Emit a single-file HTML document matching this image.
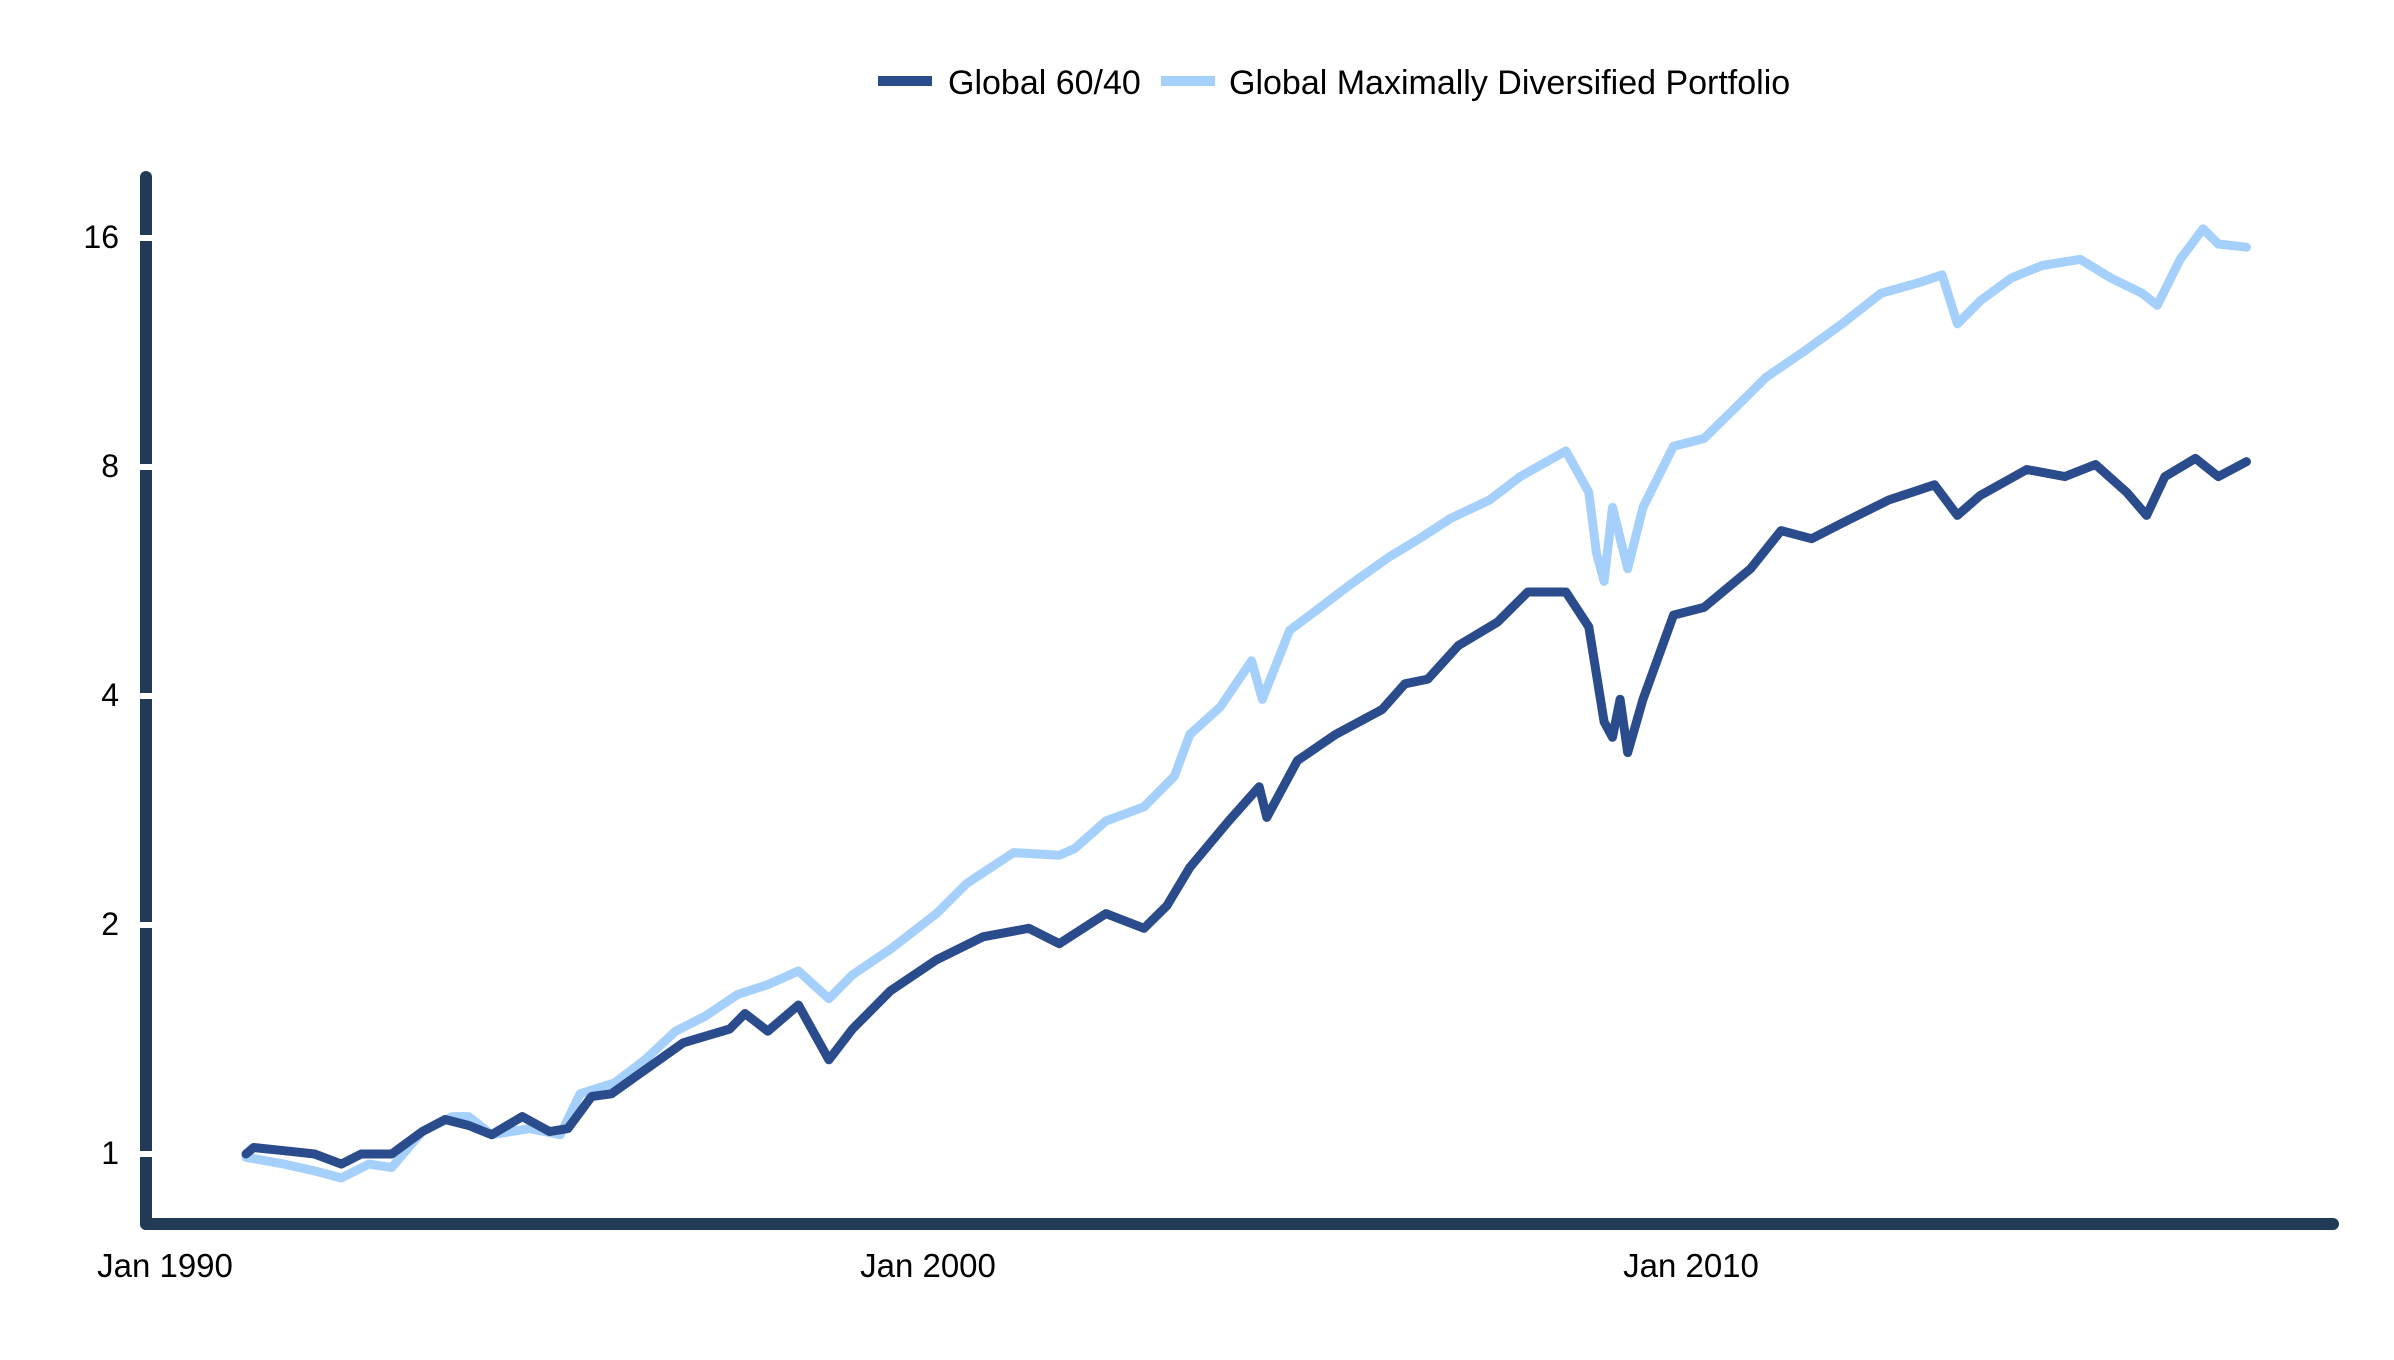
<!DOCTYPE html>
<html><head><meta charset="utf-8"><style>
html,body{margin:0;padding:0;background:#fff;}
svg{display:block;font-family:"Liberation Sans",Arial,sans-serif;}
</style></head><body>
<svg id="chart" width="2394" height="1360" viewBox="0 0 2394 1360">
<g>
  <g>
    <rect x="878" y="76" width="54" height="10" fill="#2b4c8c"/>
    <text x="948" y="94" font-size="34" fill="#000">Global 60/40</text>
  </g>
  <g>
    <rect x="1161" y="76" width="54" height="10" fill="#a4d0fb"/>
    <text x="1229" y="94" font-size="34" fill="#000">Global Maximally Diversified Portfolio</text>
  </g>
</g>
<g id="axes"></g>
<g id="series"></g>
</svg>
<script>
const yTicks=[1,2,4,8,16];
const yTickLabels=["1","2","4","8","16"];
const xTicks=[1990,2000,2010];
const xTickLabels=["Jan 1990","Jan 2000","Jan 2010"];
const darkYears=[1991.31,1991.41,1991.81,1992.21,1992.56,1992.82,1993.22,1993.62,1993.92,1994.23,1994.53,1994.93,1995.29,1995.53,1995.84,1996.10,1996.54,1997.04,1997.65,1997.85,1998.15,1998.55,1998.95,1999.26,1999.76,2000.36,2000.97,2001.57,2001.97,2002.58,2003.08,2003.38,2003.68,2004.19,2004.59,2004.69,2005.09,2005.59,2006.20,2006.50,2006.80,2007.20,2007.71,2008.11,2008.61,2008.91,2009.11,2009.22,2009.32,2009.42,2009.62,2010.02,2010.42,2011.03,2011.43,2011.83,2012.23,2012.84,2013.44,2013.74,2014.04,2014.65,2015.15,2015.55,2015.96,2016.22,2016.46,2016.86,2017.16,2017.53];
const darkValues=[1.00,1.02,1.01,1.00,0.97,1.00,1.00,1.07,1.11,1.09,1.06,1.12,1.07,1.08,1.19,1.20,1.29,1.40,1.46,1.53,1.45,1.57,1.33,1.46,1.64,1.80,1.93,1.98,1.89,2.07,1.98,2.12,2.38,2.74,3.04,2.77,3.29,3.56,3.84,4.15,4.21,4.66,5.00,5.48,5.48,4.93,3.70,3.53,3.96,3.37,3.96,5.11,5.23,5.88,6.60,6.44,6.75,7.24,7.58,6.91,7.34,7.94,7.77,8.06,7.41,6.91,7.77,8.21,7.77,8.13];
const lightYears=[1991.31,1991.81,1992.21,1992.56,1992.92,1993.22,1993.62,1994.02,1994.23,1994.53,1995.03,1995.43,1995.69,1996.14,1996.54,1996.94,1997.34,1997.75,1998.15,1998.55,1998.95,1999.26,1999.76,2000.36,2000.76,2001.37,2001.97,2002.17,2002.58,2003.08,2003.48,2003.68,2004.08,2004.49,2004.63,2004.99,2005.39,2005.79,2006.30,2006.70,2007.10,2007.61,2008.01,2008.61,2008.91,2009.01,2009.11,2009.22,2009.42,2009.62,2010.02,2010.42,2010.83,2011.23,2011.73,2012.23,2012.74,2013.24,2013.54,2013.74,2014.04,2014.45,2014.85,2015.35,2015.75,2016.16,2016.36,2016.66,2016.96,2017.16,2017.53];
const lightValues=[0.99,0.97,0.95,0.93,0.97,0.96,1.07,1.12,1.12,1.06,1.08,1.06,1.20,1.24,1.33,1.45,1.52,1.62,1.67,1.74,1.60,1.72,1.86,2.07,2.27,2.49,2.47,2.52,2.74,2.86,3.14,3.56,3.87,4.45,3.96,4.88,5.23,5.61,6.10,6.45,6.85,7.24,7.77,8.40,7.41,6.16,5.66,7.08,5.88,7.08,8.52,8.72,9.57,10.49,11.35,12.34,13.54,13.98,14.31,12.34,13.23,14.18,14.72,15.00,14.18,13.54,13.05,15.00,16.45,15.71,15.56];

const NS="http://www.w3.org/2000/svg";
const xS=yr=>146+(yr-1990)*76.3;
const yS=v=>1154-Math.log2(v)*229;
const axes=document.getElementById('axes');
const series=document.getElementById('series');
function mk(tag,attrs,parent){const e=document.createElementNS(NS,tag);for(const k in attrs)e.setAttribute(k,attrs[k]);parent.appendChild(e);return e;}

const ya=mk('line',{x1:146,y1:177,x2:146,y2:1224,stroke:'#233a56','stroke-width':12,'stroke-linecap':'round'},axes);


const xa=mk('line',{x1:146,y1:1224,x2:2333,y2:1224,stroke:'#233a56','stroke-width':12,'stroke-linecap':'round'},axes);



yTicks.forEach((v,i)=>{
  const g=mk('line',{x1:136,x2:160,y1:yS(v),y2:yS(v),stroke:'#fff','stroke-width':6},axes);
  
  
  const t=mk('text',{x:119,y:yS(v)+10,'font-size':32,'text-anchor':'end',fill:'#000'},axes);
  t.textContent=yTickLabels[i];
  
  
});
xTicks.forEach((yr,i)=>{
  const t=mk('text',{x:xS(yr)+19,y:1277,'font-size':33,'text-anchor':'middle',fill:'#000'},axes);
  t.textContent=xTickLabels[i];
  
  
});

function pathOf(xs,vs){return xs.map((x,i)=>(i?'L':'M')+xS(x).toFixed(1)+','+yS(vs[i]).toFixed(1)).join('');}
const lp=mk('path',{d:pathOf(lightYears,lightValues),fill:'none',stroke:'#a4d0fb','stroke-width':9,'stroke-linejoin':'round','stroke-linecap':'round'},series);


const dp=mk('path',{d:pathOf(darkYears,darkValues),fill:'none',stroke:'#2b4c8c','stroke-width':9,'stroke-linejoin':'round','stroke-linecap':'round'},series);


</script>
</body></html>
